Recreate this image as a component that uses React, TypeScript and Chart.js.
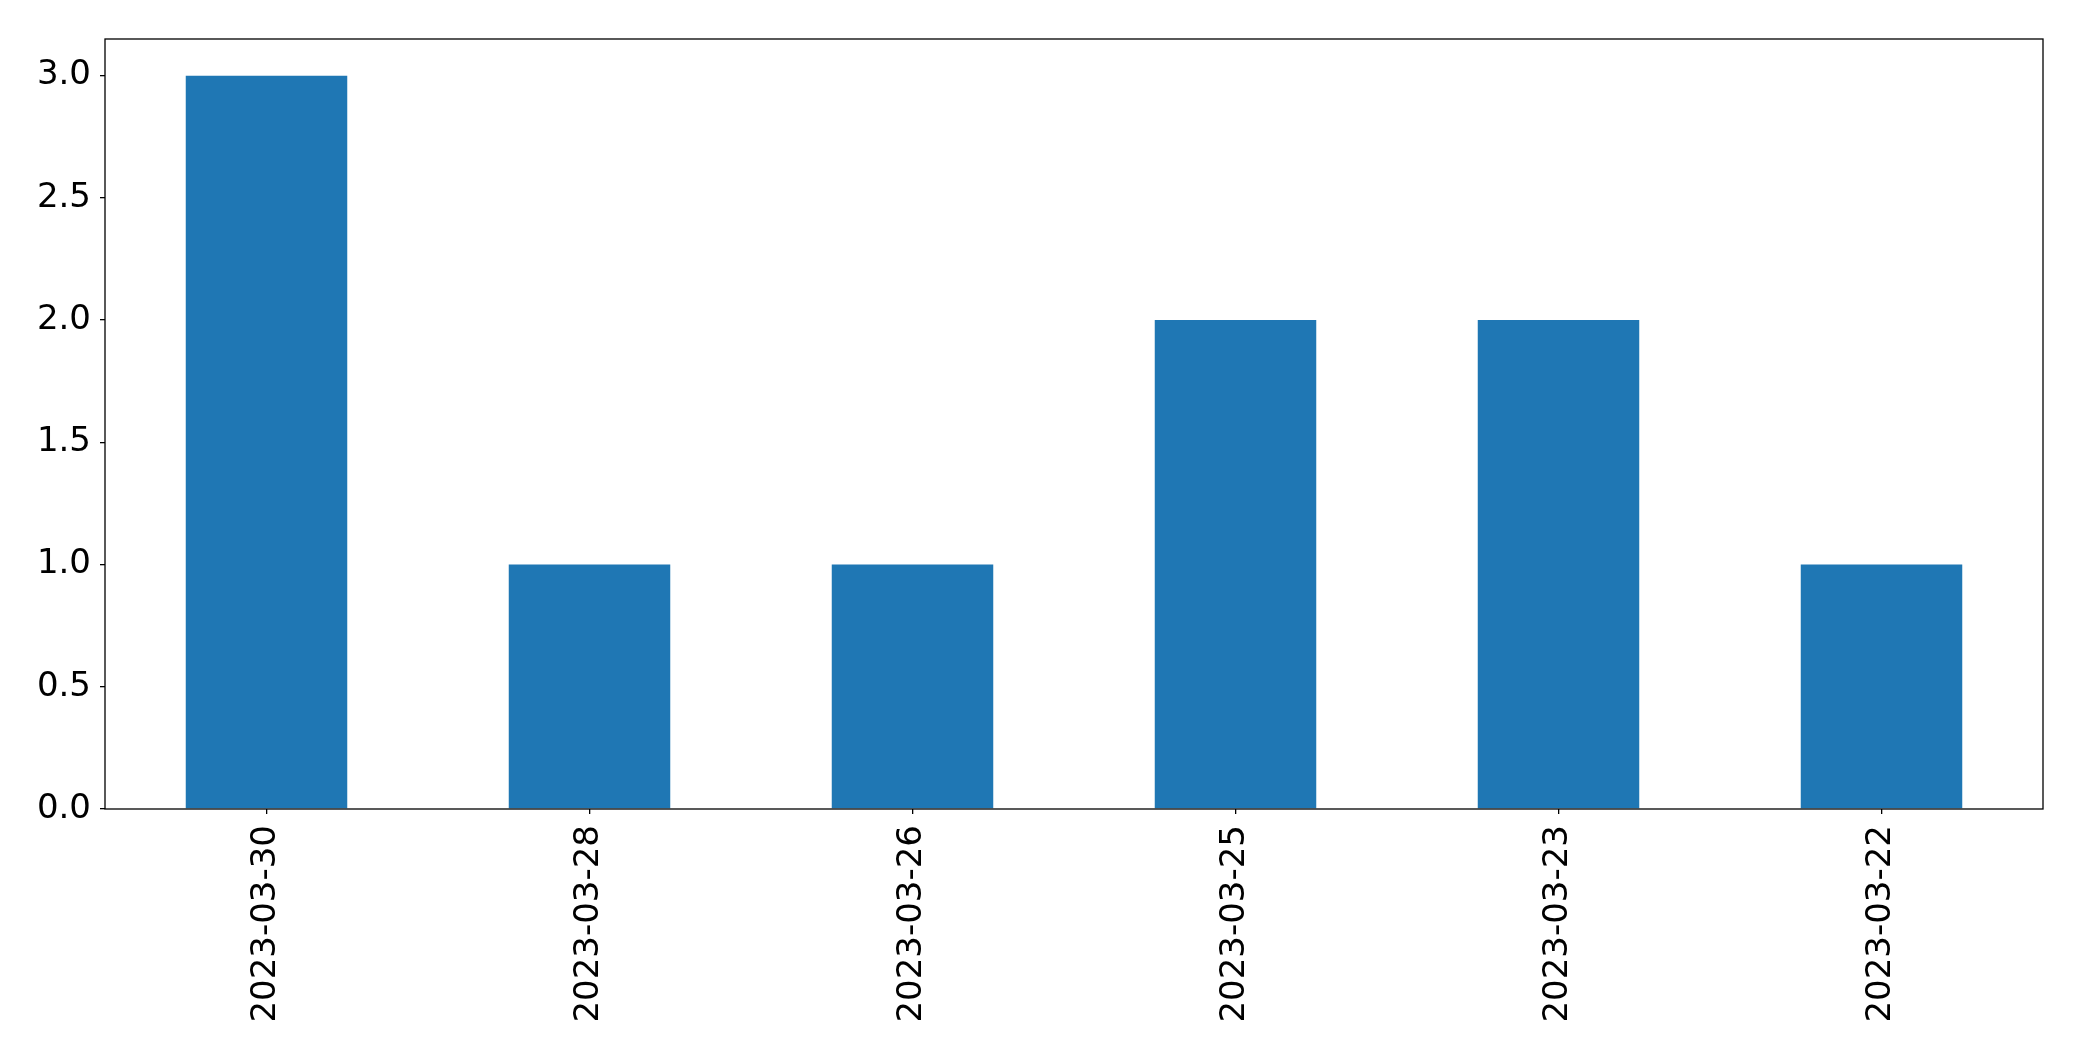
import React, { useEffect, useRef } from "react";
import { Chart, registerables } from "chart.js";

Chart.register(...registerables);

const categories = ["2023-03-30", "2023-03-28", "2023-03-26", "2023-03-25", "2023-03-23", "2023-03-22"];
const counts = [3, 1, 1, 2, 2, 1];
const yTickValues = [0, 0.5, 1.0, 1.5, 2.0, 2.5, 3.0];

const W = 2082;
const H = 1061;
const AREA = { left: 105, top: 39, right: 2043, bottom: 809 };
const FONT = { family: "'DejaVu Sans', sans-serif", size: 34 };

const framePlugin = {
  id: "frame",
  afterDatasetsDraw(chart: any) {
    const { ctx, chartArea } = chart;
    ctx.save();
    ctx.strokeStyle = "#000";
    ctx.lineWidth = 1.3;
    ctx.strokeRect(chartArea.left, chartArea.top, chartArea.right - chartArea.left, chartArea.bottom - chartArea.top);
    ctx.restore();
  },
};

export default function App() {
  const ref = useRef<HTMLCanvasElement | null>(null);
  useEffect(() => {
    if (!ref.current) return;
    const chart = new Chart(ref.current, {
      type: "bar",
      data: {
        labels: categories,
        datasets: [
          {
            data: counts,
            backgroundColor: "#1f77b4",
            borderWidth: 0,
            categoryPercentage: 1.0,
            barPercentage: 0.5,
          },
        ],
      },
      options: {
        animation: false,
        responsive: false,
        devicePixelRatio: 1,
        layout: { padding: { left: 0, top: AREA.top, right: W - AREA.right, bottom: 0 } },
        plugins: { legend: { display: false }, tooltip: { enabled: false } },
        scales: {
          x: {
            offset: true,
            grid: { display: true, offset: false, drawOnChartArea: false, drawTicks: true, tickLength: 5, color: "#000", lineWidth: 1.3 },
            border: { display: false },
            ticks: { color: "#000", font: FONT, minRotation: 90, maxRotation: 90, padding: 11, autoSkip: false },
            afterFit(scale: any) {
              scale.height = H - AREA.bottom;
            },
          },
          y: {
            min: 0,
            max: 3.15,
            grid: { display: true, drawOnChartArea: false, drawTicks: true, tickLength: 5, color: "#000", lineWidth: 1.3 },
            border: { display: false },
            ticks: {
              color: "#000",
              font: FONT,
              padding: 9,
              callback: (v: any) => Number(v).toFixed(1),
            },
            afterBuildTicks(scale: any) {
              scale.ticks = yTickValues.map((v) => ({ value: v }));
            },
            afterFit(scale: any) {
              scale.width = AREA.left;
            },
          },
        },
      },
      plugins: [framePlugin],
    });
    return () => chart.destroy();
  }, []);
  return (
    <div style={{ position: "fixed", left: 0, top: 0, width: W, height: H, background: "#fff" }}>
      <canvas ref={ref} width={W} height={H} style={{ width: W, height: H, display: "block" }} />
    </div>
  );
}
